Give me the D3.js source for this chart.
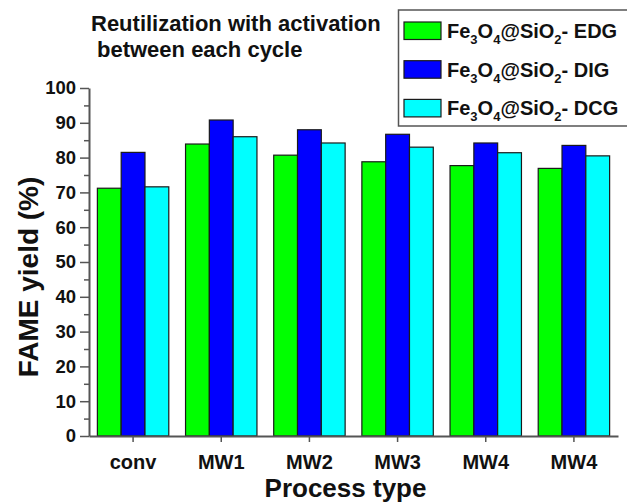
<!DOCTYPE html>
<html>
<head>
<meta charset="utf-8">
<script src="https://cdn.jsdelivr.net/npm/d3@7"></script>
<style>
  body { margin: 0; background: #fff; }
  svg { display: block; font-family: Arial, 'Liberation Sans', sans-serif; font-weight: bold; }
  .axis path, .axis line { stroke: #555; }
  .axis text { fill: #111; font-family: Arial, 'Liberation Sans', sans-serif; font-weight: bold; }
</style>
</head>
<body>
<div id="chart"></div>
<script>
var categories = ['conv', 'MW1', 'MW2', 'MW3', 'MW4', 'MW4']
var seriesNames = ['EDG', 'DIG', 'DCG']
var colors = ['#00ff00', '#0000ff', '#00ffff']

var edg = [71.2, 83.9, 80.7, 78.8, 77.7, 76.9]
var dig = [81.5, 90.8, 88.0, 86.7, 84.2, 83.5]
var dcg = [71.6, 86.0, 84.2, 83.0, 81.4, 80.5]

var yTicks = d3.range(0, 101, 10)
var yMinor = d3.range(5, 100, 10)

var series = [edg, dig, dcg]

var width = 627, height = 504
var margin = {left: 89, right: 9, top: 88, bottom: 68}

var svg = d3.select('#chart').append('svg')
  .attr('width', width)
  .attr('height', height)

var x = d3.scaleBand()
  .domain(d3.range(categories.length))
  .range([margin.left, width - margin.right])

var x1 = d3.scaleBand()
  .domain(d3.range(series.length))
  .range([x.bandwidth() * 0.095, x.bandwidth() * 0.905])

var y = d3.scaleLinear()
  .domain([0, 100])
  .range([height - margin.bottom, margin.top])

// bars
var group = svg.selectAll('g.group')
  .data(categories)
  .join('g')
  .attr('class', 'group')
  .attr('transform', (d, i) => `translate(${x(i)},0)`)

group.selectAll('rect')
  .data((d, i) => series.map((s, j) => ({j, v: s[i]})))
  .join('rect')
  .attr('x', d => x1(d.j))
  .attr('width', x1.bandwidth())
  .attr('y', d => y(d.v))
  .attr('height', d => y(0) - y(d.v))
  .attr('fill', d => colors[d.j])
  .attr('stroke', '#1a1a1a')
  .attr('stroke-width', 1.2)

// y axis minor ticks
svg.append('g')
  .attr('class', 'axis')
  .attr('transform', `translate(${margin.left},0)`)
  .call(d3.axisLeft(y).tickValues(yMinor).tickSize(5).tickFormat(''))
  .call(g => g.select('.domain').remove())
  .selectAll('line').attr('stroke-width', 1.5)

// y axis
svg.append('g')
  .attr('class', 'axis')
  .attr('transform', `translate(${margin.left},0)`)
  .call(d3.axisLeft(y).tickValues(yTicks).tickSize(9).tickSizeOuter(0).tickPadding(4))
  .call(g => g.select('.domain').attr('stroke-width', 2))
  .call(g => g.selectAll('line').attr('stroke-width', 1.5))
  .selectAll('text')
  .attr('font-size', 18.5)

// x axis
svg.append('g')
  .attr('class', 'axis')
  .attr('transform', `translate(0,${y(0)})`)
  .call(d3.axisBottom(x).tickSize(6).tickSizeOuter(0).tickPadding(13).tickFormat(i => categories[i]))
  .call(g => g.select('.domain').attr('stroke-width', 2))
  .call(g => g.selectAll('line').attr('stroke-width', 1.5))
  .selectAll('text')
  .attr('font-size', 20)

// axis titles
svg.append('text')
  .text('Process type')
  .attr('x', (margin.left + width - margin.right) / 2 - 8)
  .attr('y', 497)
  .attr('text-anchor', 'middle')
  .attr('font-size', 26)
  .attr('fill', '#111')

svg.append('text')
  .text('FAME yield (%)')
  .attr('transform', 'translate(38,' + 277 + ') rotate(-90)')
  .attr('text-anchor', 'middle')
  .attr('font-size', 28)
  .attr('fill', '#111')

// title
var title = svg.append('text')
  .attr('font-size', 22)
  .attr('fill', '#111')
title.append('tspan').attr('x', 91).attr('y', 31).text('Reutilization with activation')
title.append('tspan').attr('x', 97).attr('y', 57).text('between each cycle')

// legend
var legend = svg.append('g')
legend.append('rect')
  .attr('x', 398.5).attr('y', 10)
  .attr('width', 240).attr('height', 116)
  .attr('fill', '#fff')
  .attr('stroke', '#555')
  .attr('stroke-width', 1.5)

var item = legend.selectAll('g.item')
  .data(seriesNames)
  .join('g')
  .attr('class', 'item')
  .attr('transform', (d, i) => `translate(404,${22 + i * 38.7})`)

item.append('rect')
  .attr('width', 37).attr('height', 17.5)
  .attr('fill', (d, i) => colors[i])
  .attr('stroke', '#1a1a1a')
  .attr('stroke-width', 1.2)

var lt = item.append('text')
  .attr('x', 43).attr('y', 16)
  .attr('font-size', 20)
  .attr('fill', '#111')

lt.each(function(d) {
  var t = d3.select(this)
  var parts = [['Fe', 0], ['3', 1], ['O', 0], ['4', 1], ['@SiO', 0], ['2', 1], ['- ' + d, 0]]
  parts.forEach((p, k) => {
    var dy = p[1] ? 6 : (k > 0 && parts[k - 1][1] ? -6 : null)
    t.append('tspan')
      .attr('font-size', p[1] ? 13 : 20)
      .attr('dy', dy)
      .text(p[0])
  })
})
</script>
</body>
</html>
